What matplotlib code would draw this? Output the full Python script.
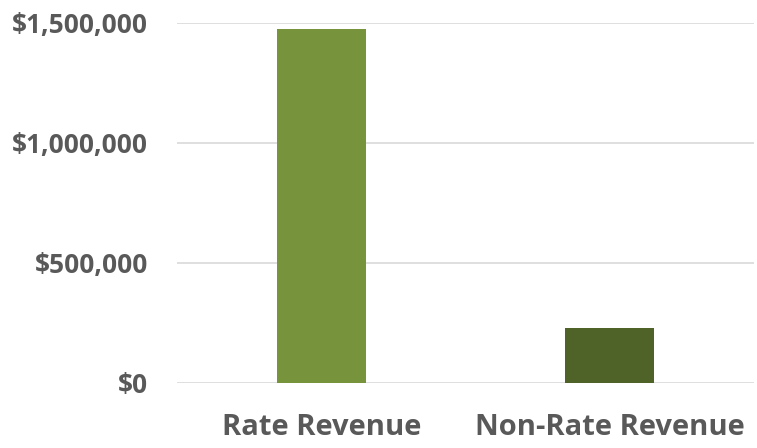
import matplotlib
matplotlib.use("Agg")
import matplotlib.pyplot as plt
from matplotlib.ticker import FuncFormatter

# chart data
categories = ["Rate Revenue", "Non-Rate Revenue"]
revenue = [1475000, 229000]
bar_colors = ["#77933C", "#4F6228"]
y_ticks = [0, 500000, 1000000, 1500000]

plt.rcParams['font.family'] = ['Open Sans', 'DejaVu Sans']

fig = plt.figure(figsize=(7.57, 4.48), dpi=100)
ax = fig.add_axes([177 / 757, 1 - 382.7 / 448, (754 - 177) / 757, (382.7 - 22.7) / 448])

x = range(len(categories))
ax.bar(x, revenue, width=0.31, color=bar_colors, zorder=3)

ax.set_xlim(-0.5, len(categories) - 0.5)
ax.set_ylim(0, 1500000)
ax.set_yticks(y_ticks)
ax.yaxis.set_major_formatter(FuncFormatter(lambda v, p: "${:,.0f}".format(v)))
ax.set_xticks(list(x))
ax.set_xticklabels(categories)

ax.grid(axis='y', color='#D9D9D9', linewidth=1.2, zorder=0)
for s in ax.spines.values():
    s.set_visible(False)
ax.tick_params(axis='both', length=0)
ax.tick_params(axis='y', pad=21, labelsize=19, labelcolor='#595959')
ax.tick_params(axis='x', pad=22, labelsize=21, labelcolor='#595959')
for lbl in ax.get_xticklabels() + ax.get_yticklabels():
    lbl.set_fontweight('bold')

fig.savefig("out.png", dpi=100)
